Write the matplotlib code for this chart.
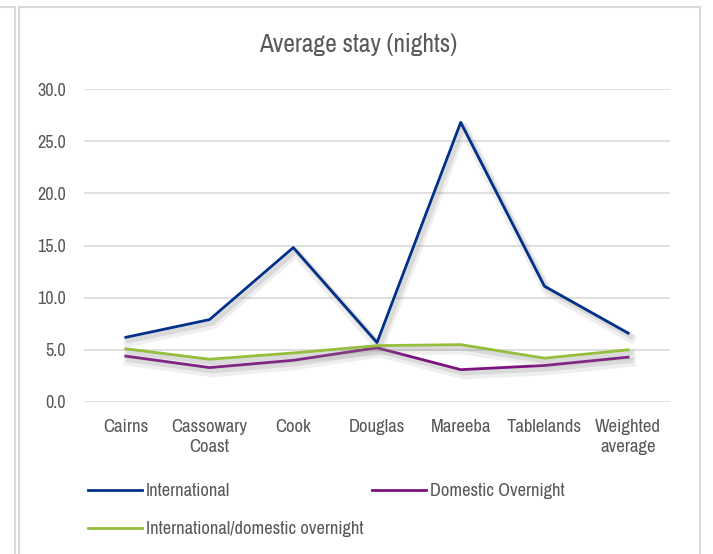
import matplotlib.pyplot as plt
import matplotlib.patheffects as pe
from matplotlib import font_manager as fm
from matplotlib.lines import Line2D
from matplotlib.patches import Rectangle

categories = ['Cairns', 'Cassowary\nCoast', 'Cook', 'Douglas', 'Mareeba', 'Tablelands', 'Weighted\naverage']
international = [6.2, 7.9, 14.8, 5.7, 26.8, 11.1, 6.6]
domestic = [4.4, 3.3, 4.0, 5.2, 3.1, 3.5, 4.3]
intl_domestic = [5.1, 4.1, 4.7, 5.4, 5.5, 4.2, 5.0]
y_ticks = [0, 5, 10, 15, 20, 25, 30]

# Arial Narrow look-alike: take the first narrow family that is installed
installed = {f.name for f in fm.fontManager.ttflist}
narrow = [n for n in ['Liberation Sans Narrow', 'Arial Narrow', 'Archivo Narrow', 'PT Sans Narrow',
                      'Roboto Condensed', 'Fira Sans Condensed', 'IBM Plex Sans Condensed',
                      'Encode Sans Condensed', 'Open Sans Condensed'] if n in installed]
plt.rcParams['font.family'] = narrow[:1] + ['DejaVu Sans']
grey = '#595959'

W, H = 713, 554
fig = plt.figure(figsize=(W / 100, H / 100), dpi=100)
ax = fig.add_axes([84 / W, 1 - 402 / H, (670 - 84) / W, (402 - 89) / H])

shadow = [pe.SimpleLineShadow(offset=(2, -3.5), shadow_color='#999999', alpha=0.15, linewidth=7),
          pe.SimpleLineShadow(offset=(2, -2.5), shadow_color='#888888', alpha=0.2, linewidth=3.5),
          pe.Normal()]

colors = ['#003087', '#7B127E', '#95BE3C']
labels = ['International', 'Domestic Overnight', 'International/domestic overnight']
x = list(range(len(categories)))
for series, c, lab in zip([international, domestic, intl_domestic], colors, labels):
    ax.plot(x, series, color=c, lw=2, label=lab, path_effects=shadow)

ax.set_xlim(-0.5, len(categories) - 0.5)
ax.set_ylim(0, 30)
ax.set_yticks(y_ticks)
ax.set_yticklabels([f'{v:.1f}' for v in y_ticks])
ax.set_xticks(x)
ax.set_xticklabels(categories, linespacing=1.3)
ax.tick_params(length=0, labelsize=13.5, labelcolor=grey)
ax.tick_params(axis='y', labelsize=13, pad=13)
ax.tick_params(axis='x', pad=12)
ax.grid(axis='y', color='#D9D9D9', lw=1.2)
ax.set_axisbelow(True)
for s in ax.spines.values():
    s.set_visible(False)

fig.text(358 / W, 1 - 45 / H, 'Average stay (nights)', ha='center', va='center', fontsize=18.3, color=grey)

# legend handles without the shadow
handles = [Line2D([], [], color=c, lw=2) for c in colors]
order = [0, 2, 1]
fig.legend([handles[i] for i in order], [labels[i] for i in order], ncol=2,
           loc='upper left', bbox_to_anchor=(88 / W, 1 - 483 / H), frameon=False,
           fontsize=13.3, labelcolor=grey, handlelength=2.9, handletextpad=0.25,
           columnspacing=0.45, labelspacing=1.2, borderpad=0, borderaxespad=0)

# chart frame like the Excel chart area
fig.add_artist(Rectangle((19 / W, -0.05), (700 - 19) / W, 1.05 - 7 / H, transform=fig.transFigure,
                         fill=False, ec='#D9D9D9', lw=1.5))
fig.add_artist(Line2D([0, 15 / W, 15 / W], [1 - 7 / H, 1 - 7 / H, 0], transform=fig.transFigure,
                      color='#D9D9D9', lw=1.5))

fig.savefig('out.png', dpi=100)
